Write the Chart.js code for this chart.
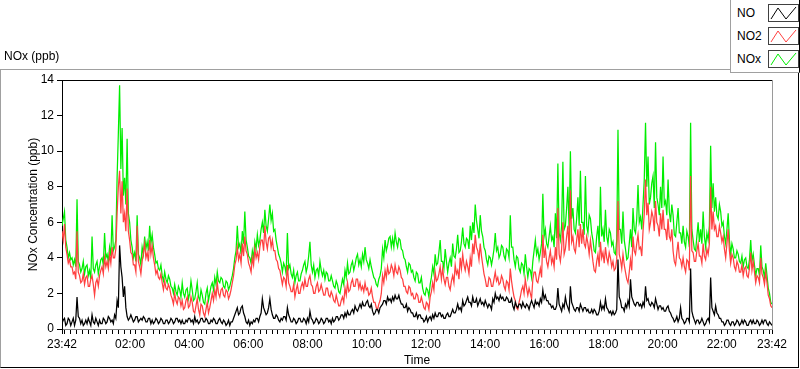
<!DOCTYPE html>
<html>
<head>
<meta charset="utf-8">
<script src="https://cdn.jsdelivr.net/npm/chart.js@4"></script>
<style>
  html, body { margin: 0; padding: 0; background: #fff; }
  body { width: 800px; height: 369px; position: relative; overflow: hidden; font-family: "Liberation Sans", Arial, sans-serif; }
  #chart { position: absolute; left: 0; top: 0; }
  .frame { position: absolute; left: 0; top: 69px; width: 797px; height: 297px;
           border-left: 1px solid #a0a0a0; border-top: 1px solid #a0a0a0;
           border-right: 1px solid #000; border-bottom: 1px solid #000; pointer-events: none; }
  .chart-label { position: absolute; left: 4px; top: 49px; font-size: 12px; color: #000; }
  .legend { position: absolute; left: 730px; top: 0; width: 68px; height: 72px; background: #fff;
            border-left: 1px solid #a0a0a0; border-bottom: 1px solid #a0a0a0; border-right: 1px solid #000; }
  .legend-row { position: absolute; left: 6px; height: 18px; width: 62px; font-size: 12px; color: #000; }
  .legend-row span { position: absolute; left: 0; top: 2px; }
  .legend-row svg { position: absolute; left: 31px; top: 0; border: 1px solid #404040; background: #fff; }
</style>
</head>
<body>
<canvas id="chart" width="800" height="369"></canvas>
<div class="frame"></div>
<div class="chart-label">NOx (ppb)</div>
<div class="legend" id="legend"></div>
<script>
// samples every ~2.5 min across 23:42 -> 23:42 (8 per 10 px)
const NO = [
  0.3,0.5,0.6,0.2,0.3,0.6,0.5,0.2, 0.4,0.6,0.2,0.5,1.8,0.7,0.6,0.3, 0.5,0.2,0.3,0.5,0.3,0.6,0.4,0.2,
  0.8,0.4,0.3,0.6,0.4,0.2,0.5,0.3, 0.3,0.6,0.5,0.3,0.4,0.7,0.6,0.4, 0.5,0.3,0.8,0.6,1.6,1.2,4.7,3.5,
  2.9,1.8,2.4,1.2,0.7,0.5,0.6,0.8, 0.6,0.4,0.5,0.7,0.7,0.4,0.5,0.6, 0.5,0.7,0.6,0.4,0.4,0.6,0.6,0.3,
  0.5,0.3,0.4,0.6,0.5,0.3,0.4,0.6, 0.5,0.3,0.3,0.5,0.5,0.3,0.4,0.6, 0.5,0.3,0.4,0.6,0.6,0.4,0.5,0.3,
  0.5,0.3,0.3,0.5,0.4,0.6,0.6,0.4, 0.5,0.3,0.7,0.4,0.5,0.3,0.4,0.6, 0.6,0.4,0.4,0.6,0.5,0.3,0.3,0.5,
  0.4,0.6,0.5,0.3,0.3,0.5,0.6,0.4, 0.3,0.5,0.4,0.2,0.3,0.5,0.2,0.4, 0.4,0.6,0.8,1.0,1.2,0.8,0.9,1.2,
  1.3,0.9,0.7,0.4,0.3,0.5,0.2,0.4, 0.3,0.5,0.4,0.6,0.6,0.4,0.7,0.9, 1.7,1.2,1.0,0.8,0.9,1.2,1.7,1.1,
  0.8,0.6,0.6,0.8,0.7,0.5,0.4,0.6, 0.5,0.7,0.7,0.5,1.2,0.8,0.6,0.4, 0.4,0.6,0.5,0.3,0.4,0.6,0.6,0.4,
  0.4,0.6,0.5,0.3,0.6,0.4,1.0,0.6, 0.5,0.3,0.4,0.6,0.5,0.3,0.4,0.6, 0.5,0.3,0.4,0.6,0.6,0.4,0.5,0.3,
  0.6,0.4,0.5,0.7,0.7,0.5,0.6,0.8, 0.8,0.6,0.9,0.7,1.0,0.8,0.8,1.0, 1.1,0.9,1.3,1.1,1.0,1.2,1.4,1.2,
  1.5,1.3,1.3,1.5,1.6,1.3,1.2,1.4, 1.0,0.8,0.9,1.1,1.1,0.9,1.2,1.3, 1.4,1.6,1.6,1.4,1.8,1.6,1.7,1.5,
  1.8,1.6,1.9,1.7,1.7,1.9,1.6,1.4, 1.4,1.2,1.2,1.4,1.0,1.2,1.1,0.9, 0.9,0.7,0.7,0.9,0.6,0.8,0.8,0.6,
  0.6,0.4,0.5,0.7,0.4,0.6,0.7,0.5, 0.8,0.6,0.9,0.7,0.7,0.9,0.9,0.7, 0.8,0.6,0.6,0.8,0.9,0.7,0.7,0.9,
  1.1,0.9,0.9,1.1,1.4,1.1,1.2,1.0, 1.6,1.3,1.4,1.6,1.8,1.5,1.5,1.3, 1.8,1.5,1.5,1.7,1.3,1.5,1.7,1.4,
  1.5,1.3,1.6,1.4,1.2,1.4,1.3,1.1, 1.7,1.5,2.0,1.7,1.8,1.6,1.9,1.7, 1.8,1.6,1.6,1.8,1.7,1.5,1.5,1.7,
  1.3,1.1,1.5,1.3,1.2,1.4,1.4,1.2, 1.5,1.3,1.2,1.4,1.3,1.1,1.4,1.6, 1.4,1.2,1.6,1.4,1.5,1.3,1.7,1.5,
  2.2,1.7,1.9,1.6,1.6,1.4,1.4,1.2, 1.3,1.1,1.1,1.3,2.3,1.4,1.2,1.0, 1.4,1.2,1.8,1.4,1.2,1.0,2.4,1.5,
  1.3,1.1,1.0,1.2,1.2,1.0,1.4,1.2, 1.0,1.2,1.2,1.0,1.1,0.9,0.9,1.1, 0.9,1.1,1.0,0.8,0.8,1.0,1.5,1.1,
  1.3,1.1,1.7,1.2,1.1,0.9,1.0,0.8, 1.0,0.8,0.9,1.1,3.9,1.8,1.6,1.2, 1.2,1.0,1.4,1.2,1.6,1.3,2.8,1.8,
  1.6,1.4,1.3,1.5,1.5,1.3,1.4,1.2, 1.5,1.3,2.4,1.6,1.7,1.4,1.3,1.5, 1.4,1.2,1.7,1.4,1.1,1.3,1.3,1.1,
  1.2,1.0,1.0,1.2,1.3,1.0,0.9,0.7, 0.6,0.4,0.5,0.7,0.4,0.6,1.2,0.6, 0.5,0.3,0.4,0.6,0.6,0.4,3.4,1.0,
  0.7,0.5,0.3,0.5,0.5,0.3,0.4,0.6, 0.4,0.2,0.3,0.5,0.6,0.4,2.9,1.2, 1.0,0.8,1.3,0.9,0.8,0.6,0.6,0.4,
  0.4,0.2,0.3,0.5,0.5,0.3,0.2,0.4, 0.4,0.2,0.3,0.5,0.4,0.2,0.3,0.5, 0.3,0.5,0.4,0.2,0.2,0.4,0.5,0.3,
  0.5,0.3,0.3,0.5,0.4,0.2,0.3,0.5, 0.3,0.5,0.5,0.3,0.2,0.4,0.3,0.2
];
const NO2 = [
  5.5,5.0,5.9,4.6,4.2,3.7,3.9,3.5, 3.5,3.1,3.2,2.8,5.5,3.2,3.0,2.6, 2.7,3.1,2.5,2.9,3.0,2.4,2.4,2.8,
  3.0,2.5,1.9,2.6,2.8,2.4,3.0,3.3, 3.5,3.1,4.0,3.5,3.8,3.4,4.2,3.7, 4.6,4.0,4.0,4.5,6.5,8.0,8.9,6.5,
  8.3,6.0,6.5,5.5,7.9,5.5,5.0,4.3, 4.2,3.6,3.6,3.2,5.8,3.8,3.5,3.1, 3.8,4.3,4.8,4.0,4.3,3.8,5.0,4.2,
  4.7,4.0,3.6,3.1,3.3,2.9,2.8,3.1, 2.6,2.2,2.7,2.3,2.2,2.5,2.3,1.9, 1.7,1.4,2.0,1.6,1.4,1.8,1.7,1.3,
  1.6,1.1,1.2,1.6,1.8,1.2,1.3,1.8, 1.5,1.0,0.9,1.3,1.7,1.1,0.8,1.4, 1.3,0.9,0.7,1.1,1.5,0.9,1.2,1.6,
  2.0,1.6,2.2,1.8,2.6,2.0,1.8,2.2, 2.3,1.9,1.8,2.2,2.1,1.7,1.9,2.2, 2.6,3.0,3.6,3.9,4.6,3.9,4.2,3.7,
  4.8,4.1,5.2,4.4,4.2,3.7,3.5,3.2, 4.0,3.6,4.5,4.0,4.3,3.9,4.6,5.0, 5.0,4.4,5.8,4.9,4.5,5.1,5.2,4.6,
  5.0,4.4,4.4,3.9,3.8,3.4,3.3,2.9, 2.5,2.9,2.8,2.4,3.6,2.6,2.4,2.1, 2.1,2.5,1.8,2.2,2.5,2.0,2.0,2.4,
  2.6,2.3,2.8,2.4,2.4,2.8,3.0,2.5, 2.4,2.0,2.0,2.4,2.6,2.1,2.2,2.5, 2.2,1.9,1.9,2.3,2.3,1.9,1.8,2.1,
  1.9,1.6,1.5,1.9,1.6,1.3,1.3,1.6, 1.8,1.5,2.3,1.9,2.6,2.1,2.2,2.6, 2.8,2.4,2.4,2.8,2.8,2.3,2.6,2.2,
  2.4,2.1,2.6,2.2,2.3,1.9,2.0,2.3, 1.8,1.5,1.5,1.2,1.1,1.4,1.6,2.0, 3.0,2.6,3.3,2.9,3.5,3.1,3.2,3.6,
  3.4,3.0,3.6,3.2,3.1,3.5,3.3,2.9, 2.8,2.4,2.4,2.1,2.0,2.4,2.3,1.9, 2.0,1.7,1.7,2.0,1.9,1.5,1.5,1.8,
  1.5,1.2,1.1,1.5,1.4,1.1,1.8,2.1, 2.6,2.2,3.2,2.7,2.8,3.1,3.5,2.8, 3.4,2.8,2.5,2.9,2.9,2.4,2.2,2.7,
  3.0,2.6,3.6,3.1,3.3,2.8,4.0,3.4, 4.2,3.6,3.3,3.8,3.5,3.1,4.0,3.5, 4.8,4.2,5.3,4.6,4.4,3.9,4.8,4.1,
  3.6,3.1,2.8,2.4,2.4,2.9,2.8,2.4, 2.4,2.8,3.2,2.7,2.9,2.5,2.6,3.0, 2.8,2.4,2.2,2.7,2.6,2.2,3.4,2.7,
  2.2,1.8,1.6,1.2,1.1,1.5,1.8,2.2, 2.4,2.0,2.8,2.3,1.9,2.3,2.0,1.7, 2.8,3.2,3.2,2.7,2.6,3.0,3.4,2.9,
  5.3,4.0,4.5,3.8,3.5,4.0,4.4,3.7, 4.0,3.5,4.6,3.9,6.8,4.2,3.8,4.5, 6.0,4.2,4.5,5.2,5.8,4.4,7.8,4.9,
  5.2,4.5,4.3,5.0,5.6,4.6,5.9,4.8, 5.6,4.8,4.6,5.2,4.8,4.2,5.0,4.4, 3.8,3.3,3.2,3.8,4.2,3.5,4.9,4.0,
  4.3,3.7,4.6,4.0,3.7,4.3,4.0,3.5, 3.8,3.3,3.4,3.9,7.2,4.2,3.9,3.4, 4.2,3.6,3.2,2.8,2.6,3.2,3.9,3.3,
  5.2,4.4,4.2,4.8,5.3,4.5,4.6,4.1, 5.5,6.5,8.4,6.4,7.1,5.6,6.0,6.6, 6.3,5.5,7.2,6.0,5.8,5.2,6.5,5.6,
  6.7,5.6,5.6,5.0,6.2,5.2,5.0,5.6, 4.4,3.8,3.6,4.3,4.9,4.0,3.9,3.5, 4.0,3.5,3.2,3.9,3.8,3.3,8.6,4.4,
  4.3,3.8,3.8,4.4,4.8,4.1,4.1,3.7, 4.8,4.1,3.9,4.5,4.2,4.8,8.0,5.6, 6.6,5.6,5.8,5.2,5.2,5.8,5.4,4.9,
  5.2,4.5,4.0,4.8,5.6,4.4,3.7,4.2, 4.0,3.5,3.3,3.8,3.6,3.2,3.2,3.6, 3.0,3.4,3.5,3.0,2.9,3.4,4.3,3.3,
  3.8,3.2,2.6,3.0,2.9,2.6,4.0,3.1, 2.9,2.5,3.2,2.6,1.9,1.7,1.3,1.2
];
const NOX = [
  5.8,6.2,6.6,5.0,4.6,4.0,4.3,3.9, 4.0,3.6,3.9,3.5,7.3,3.8,3.6,3.2, 3.4,3.8,3.1,3.5,3.6,3.0,3.3,2.8,
  5.2,3.4,3.2,3.6,3.8,3.1,3.5,3.9, 4.0,3.6,5.4,4.0,4.2,3.8,4.6,4.1, 6.4,4.4,4.6,5.0,8.5,11.0,13.7,9.0,
  11.3,7.5,8.5,7.0,10.7,6.5,6.0,5.0, 4.6,4.0,4.3,3.8,6.4,4.2,4.0,3.6, 4.6,4.2,5.2,4.5,4.9,4.4,5.8,4.8,
  5.3,4.6,4.2,3.7,3.8,3.4,3.3,3.6, 3.0,2.7,3.2,2.8,2.6,3.0,2.8,2.4, 2.3,2.0,2.5,2.1,1.9,2.4,2.2,1.8,
  2.6,2.0,1.8,2.2,2.3,1.7,2.0,2.7, 2.2,1.6,1.7,2.1,2.6,1.8,1.6,2.2, 1.9,1.5,1.4,2.0,2.3,1.6,2.0,2.4,
  2.6,2.2,2.9,2.5,3.2,2.7,2.6,2.9, 2.8,2.4,2.3,2.7,2.6,2.2,2.4,2.7, 3.0,3.4,4.0,4.4,5.8,4.6,4.8,4.2,
  5.5,4.8,6.6,5.0,4.6,4.1,4.0,3.7, 4.4,4.0,4.9,4.5,5.3,4.7,5.0,5.6, 6.0,5.4,6.7,5.8,5.5,6.2,7.0,6.1,
  6.5,5.5,5.6,5.0,4.6,4.2,4.0,3.7, 3.2,3.7,3.5,3.1,5.4,3.4,3.6,3.1, 2.9,3.3,2.6,3.0,3.2,2.7,2.7,3.1,
  3.3,3.6,3.8,3.2,3.5,4.1,4.9,3.6, 3.2,3.6,2.9,3.3,3.4,3.0,3.8,3.3, 3.0,3.3,2.8,3.2,3.1,2.7,2.7,3.0,
  2.7,2.4,2.3,2.7,2.5,2.1,2.0,2.4, 2.8,2.5,3.3,2.9,3.7,3.1,3.2,3.6, 3.8,3.3,3.6,4.0,4.2,3.6,3.9,3.5,
  4.2,3.8,4.6,3.9,3.7,3.4,3.9,3.5, 3.2,2.9,2.8,2.5,2.4,2.8,3.0,3.4, 4.5,4.0,5.0,4.4,4.7,5.1,5.2,4.6,
  5.1,4.6,5.4,4.9,4.6,5.1,5.0,4.5, 4.4,4.0,3.9,3.5,3.2,3.7,3.6,3.2, 3.3,2.9,2.7,3.2,3.1,2.6,2.6,2.9,
  2.3,2.0,1.9,2.3,2.2,1.8,2.5,2.9, 3.5,3.1,4.2,3.6,3.7,4.3,5.0,3.8, 3.8,3.4,4.5,3.8,3.2,3.7,4.0,3.5,
  4.8,4.1,4.0,4.5,5.3,4.3,4.4,4.9, 5.7,4.8,4.6,5.1,5.0,4.5,5.8,5.0, 6.0,5.4,7.0,6.1,5.6,5.1,6.4,5.5,
  5.2,4.6,4.4,3.9,3.6,4.1,4.0,3.6, 4.0,4.5,5.4,4.4,4.6,4.0,4.2,4.7, 4.6,4.1,3.9,4.5,4.4,4.0,6.4,4.6,
  4.6,3.9,3.5,4.1,4.0,3.4,3.2,3.7, 3.6,3.1,4.2,3.5,2.9,3.4,3.3,2.9, 3.8,4.4,5.0,4.2,4.5,3.9,4.3,4.8,
  7.6,5.2,5.6,4.8,4.6,5.2,5.8,5.0, 5.2,4.6,6.5,5.1,9.3,5.4,5.0,5.8, 9.4,5.6,5.8,6.8,8.0,5.6,10.0,6.2,
  6.8,5.6,5.4,6.2,7.4,5.8,8.9,6.0, 6.0,5.3,8.6,5.8,5.4,6.4,6.2,5.4, 5.0,4.4,4.3,5.2,5.8,4.6,8.0,5.2,
  5.6,4.9,6.7,5.2,4.8,5.6,5.4,4.7, 4.9,4.3,4.2,5.0,11.2,5.6,5.6,4.8, 6.6,5.0,4.5,3.9,4.0,4.8,5.6,4.6,
  6.8,5.6,5.4,6.2,8.1,6.0,6.3,5.6, 7.0,8.4,11.6,8.0,9.7,7.0,7.4,8.2, 8.6,6.8,10.5,7.4,7.0,6.4,8.0,6.8,
  9.7,7.0,7.2,6.4,8.4,6.6,6.0,7.0, 6.4,5.3,5.2,6.0,6.8,5.4,5.4,4.8, 5.8,4.9,4.6,5.5,5.2,4.6,11.6,5.6,
  5.0,4.5,4.4,5.2,6.0,4.9,5.6,4.8, 6.6,5.2,4.6,5.4,5.0,5.8,10.3,6.8, 8.2,6.6,7.4,6.4,6.2,7.0,6.6,5.8,
  6.0,5.2,4.8,5.6,6.5,5.0,4.2,4.8, 4.5,4.0,4.0,4.4,4.2,3.8,3.7,4.1, 3.5,3.9,4.0,3.5,3.4,3.9,5.0,3.8,
  4.2,3.6,3.0,3.4,3.4,3.0,4.7,3.5, 3.3,2.9,3.7,3.0,2.3,2.0,1.5,1.4
];

const SERIES_NAMES = ['NO', 'NO2', 'NOx'];
const SERIES_COLORS = ['#000000', '#ff4040', '#00ee00'];

// x axis: minutes after 23:42
const SPAN_MINUTES = 1440;
const MAJOR_TICKS = [0, 138, 258, 378, 498, 618, 738, 858, 978, 1098, 1218, 1338, 1440];
const MAJOR_LABELS = ['23:42', '02:00', '04:00', '06:00', '08:00', '10:00', '12:00',
                      '14:00', '16:00', '18:00', '20:00', '22:00', '23:42'];
const MINOR_STEP = 12;
const Y_TICKS = [0, 2, 4, 6, 8, 10, 12, 14];

const FONT = { family: '"Liberation Sans", Arial, sans-serif', size: 12 };

function toPoints(values) {
    const step = SPAN_MINUTES / (values.length - 1);
    return values.map((v, i) => ({ x: i * step, y: v }));
}

function buildXTicks() {
    const ticks = MAJOR_TICKS.map(v => ({ value: v, major: true }));
    for (let t = MAJOR_TICKS[1] - MINOR_STEP; t > 0; t -= MINOR_STEP) ticks.push({ value: t });
    for (let t = MAJOR_TICKS[1] + MINOR_STEP; t < SPAN_MINUTES; t += MINOR_STEP) {
        if (!MAJOR_TICKS.includes(t)) ticks.push({ value: t });
    }
    return ticks.sort((a, b) => a.value - b.value);
}

const plotBorder = {
    id: 'plotBorder',
    afterDraw(chart) {
        const { ctx, chartArea: a } = chart;
        ctx.save();
        ctx.lineWidth = 1;
        ctx.strokeStyle = '#000';
        ctx.beginPath();
        ctx.moveTo(a.left, a.top + 0.5);
        ctx.lineTo(a.right, a.top + 0.5);
        ctx.stroke();
        ctx.strokeStyle = '#9a9a9a';
        ctx.beginPath();
        ctx.moveTo(a.right + 0.5, a.top);
        ctx.lineTo(a.right + 0.5, a.bottom);
        ctx.stroke();
        ctx.restore();
    }
};

const lineSet = (name, values, color) => ({
    label: name,
    data: toPoints(values),
    borderColor: color,
    borderWidth: 1.25,
    pointRadius: 0,
    tension: 0,
    fill: false
});

new Chart(document.getElementById('chart'), {
    type: 'line',
    data: {
        datasets: [
            lineSet(SERIES_NAMES[0], NO, SERIES_COLORS[0]),
            lineSet(SERIES_NAMES[1], NO2, SERIES_COLORS[1]),
            lineSet(SERIES_NAMES[2], NOX, SERIES_COLORS[2])
        ]
    },
    options: {
        responsive: false,
        animation: false,
        layout: { padding: { top: 80, right: 28, left: 0, bottom: 0 } },
        plugins: { legend: { display: false }, tooltip: { enabled: false } },
        scales: {
            x: {
                type: 'linear',
                min: 0,
                max: SPAN_MINUTES,
                afterBuildTicks: (scale) => { scale.ticks = buildXTicks(); },
                afterFit: (scale) => { scale.height = 40; },
                ticks: {
                    autoSkip: false,
                    maxRotation: 0,
                    padding: 3,
                    color: '#000',
                    font: FONT,
                    callback: (v) => {
                        const i = MAJOR_TICKS.indexOf(v);
                        return i >= 0 ? MAJOR_LABELS[i] : '';
                    }
                },
                grid: { drawOnChartArea: false, tickLength: 5, color: '#000' },
                border: { color: '#808080' },
                title: { display: true, text: 'Time', color: '#000', font: FONT, padding: { top: 0, bottom: 1 } }
            },
            y: {
                min: 0,
                max: 14,
                afterBuildTicks: (scale) => { scale.ticks = Y_TICKS.map(v => ({ value: v })); },
                afterFit: (scale) => { scale.width = 62; },
                ticks: { color: '#000', font: FONT, padding: 3 },
                grid: { drawOnChartArea: false, tickLength: 5, color: '#000' },
                border: { color: '#000' },
                title: { display: true, text: 'NOx Concentration (ppb)', color: '#000', font: FONT, padding: { top: 26, bottom: 0 } }
            }
        }
    },
    plugins: [plotBorder]
});

// legend box, top right
const legend = document.getElementById('legend');
SERIES_NAMES.forEach((name, i) => {
    const row = document.createElement('div');
    row.className = 'legend-row';
    row.style.top = (4 + i * 23) + 'px';
    row.innerHTML = `<span>${name}</span>
        <svg width="29" height="16"><polyline points="2,14 9,3 17,14 27,2" fill="none" stroke="${SERIES_COLORS[i]}" stroke-width="1"/></svg>`;
    legend.appendChild(row);
});
</script>
</body>
</html>
